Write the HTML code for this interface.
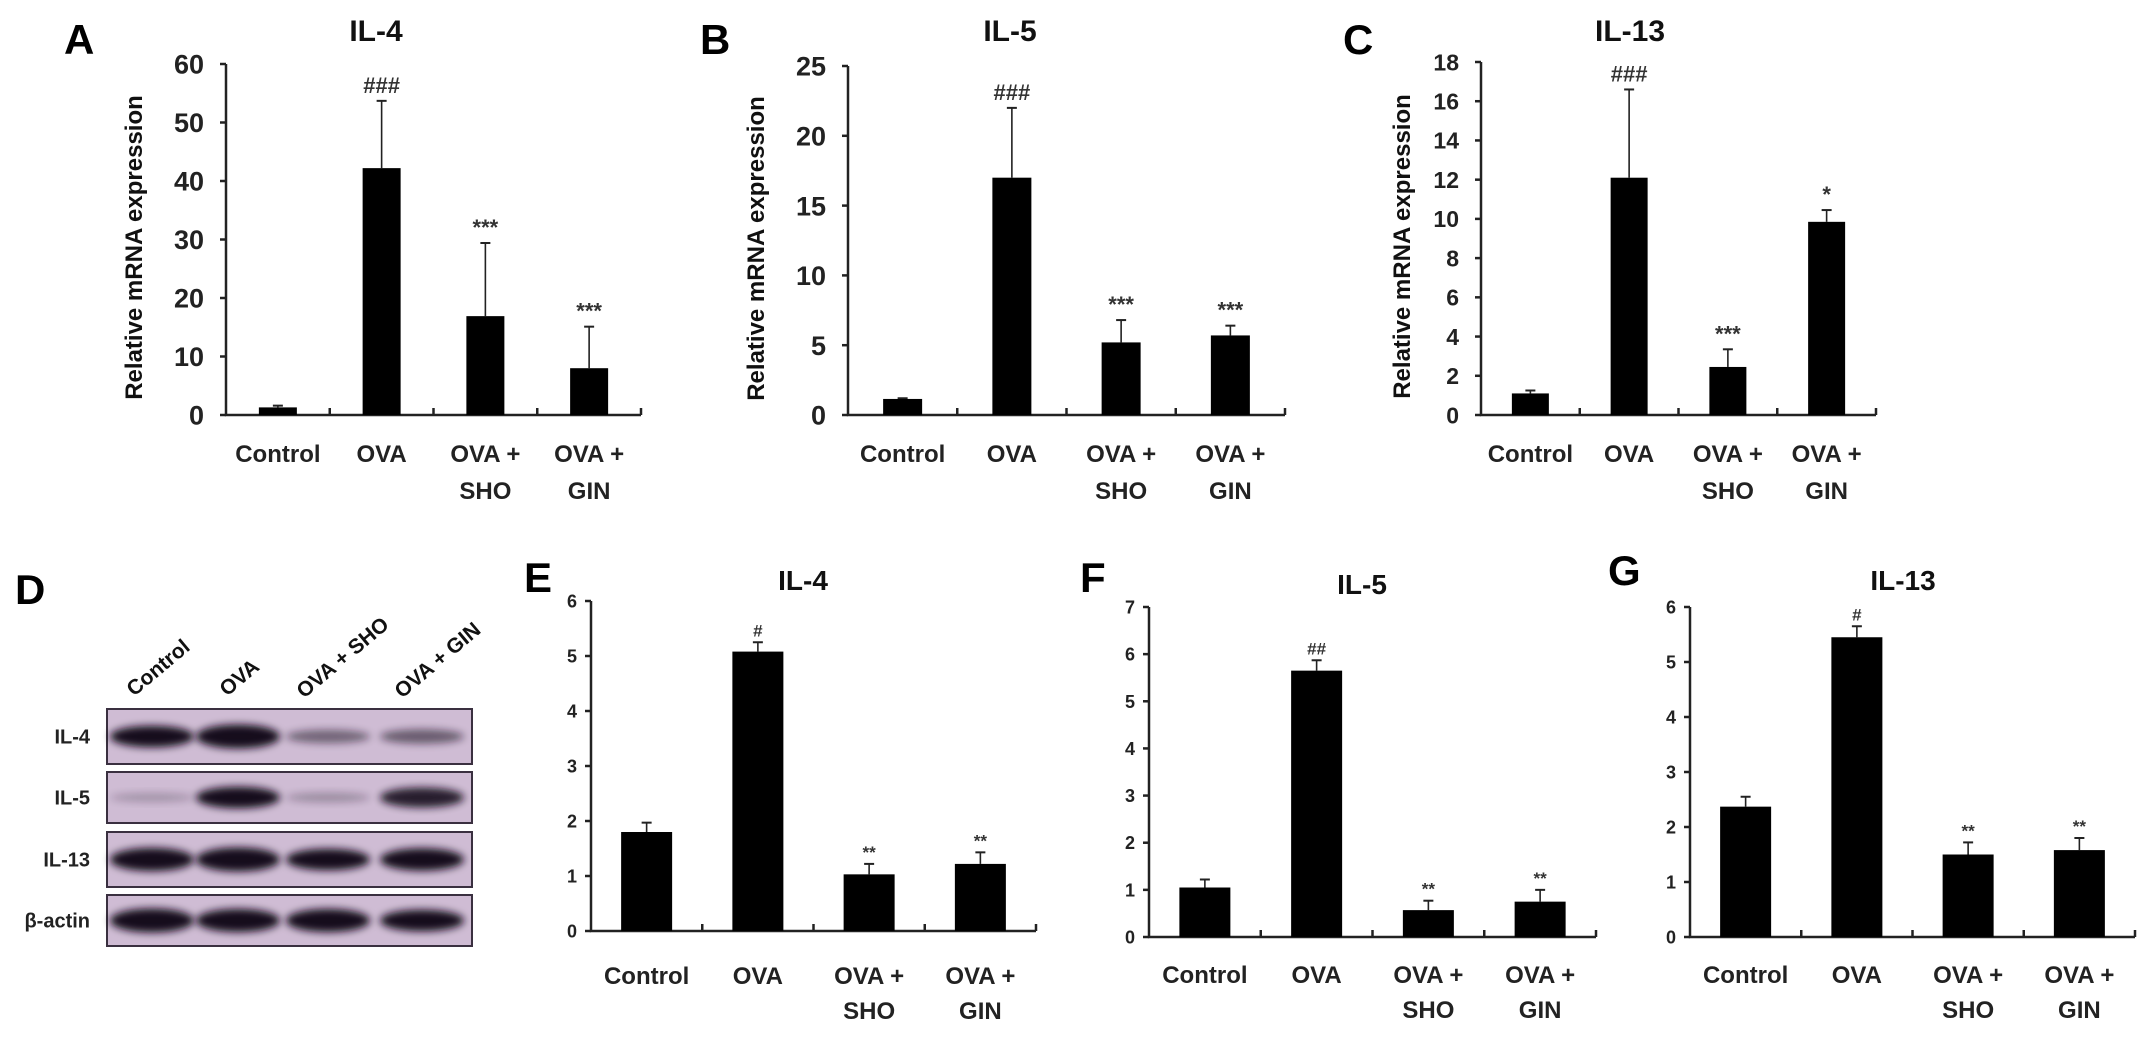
<!DOCTYPE html>
<html><head><meta charset="utf-8">
<style>
html,body{margin:0;padding:0;background:#fff;}
svg{display:block;font-family:"Liberation Sans",sans-serif;}
</style></head>
<body>
<svg id="fig" width="2150" height="1049" viewBox="0 0 2150 1049" xmlns="http://www.w3.org/2000/svg">
<defs>
<filter id="blur" x="-20%" y="-60%" width="140%" height="220%"><feGaussianBlur stdDeviation="4"/></filter>
</defs>
<g id="blot">
<text x="15" y="604" font-size="42" font-weight="bold">D</text>
<text transform="translate(134,697) rotate(-40)" font-size="21" font-weight="bold" fill="#111">Control</text>
<text transform="translate(227,697) rotate(-40)" font-size="21" font-weight="bold" fill="#111">OVA</text>
<text transform="translate(304,699) rotate(-40)" font-size="21" font-weight="bold" fill="#111">OVA + SHO</text>
<text transform="translate(402,699) rotate(-40)" font-size="21" font-weight="bold" fill="#111">OVA + GIN</text>
</g>
<g id="charts"></g>
</svg>
<script>
// ---- data ----
const categories = ["Control", "OVA", "OVA +|SHO", "OVA +|GIN"];
const ticksA = [0, 10, 20, 30, 40, 50, 60];
const valuesA = [1.3, 42.2, 16.9, 8.0];
const errorsA = [1.6, 53.7, 29.4, 15.1];
const marksA = ["", "###", "***", "***"];
const ticksB = [0, 5, 10, 15, 20, 25];
const valuesB = [1.15, 17.0, 5.2, 5.7];
const errorsB = [1.2, 22.0, 6.8, 6.4];
const marksB = ["", "###", "***", "***"];
const ticksC = [0, 2, 4, 6, 8, 10, 12, 14, 16, 18];
const valuesC = [1.1, 12.1, 2.45, 9.85];
const errorsC = [1.25, 16.6, 3.35, 10.45];
const marksC = ["", "###", "***", "*"];
const ticksE = [0, 1, 2, 3, 4, 5, 6];
const valuesE = [1.8, 5.08, 1.03, 1.22];
const errorsE = [1.97, 5.25, 1.22, 1.43];
const marksE = ["", "#", "**", "**"];
const ticksF = [0, 1, 2, 3, 4, 5, 6, 7];
const valuesF = [1.05, 5.65, 0.57, 0.75];
const errorsF = [1.22, 5.87, 0.77, 1.0];
const marksF = ["", "##", "**", "**"];
const ticksG = [0, 1, 2, 3, 4, 5, 6];
const valuesG = [2.37, 5.45, 1.5, 1.58];
const errorsG = [2.55, 5.65, 1.72, 1.8];
const marksG = ["", "#", "**", "**"];
// blot band intensities (0..1) per lane
const blotRows = ["IL-4", "IL-5", "IL-13", "β-actin"];
const bandIL4 = [0.85, 1.0, 0.35, 0.4];
const bandIL5 = [0.08, 0.85, 0.12, 0.75];
const bandIL13 = [0.95, 1.0, 0.85, 0.9];
const bandActin = [1.0, 0.95, 0.95, 0.85];

const NS = "http://www.w3.org/2000/svg";
const root = document.getElementById("charts");
function mk(tag, attrs, parent) {
  const e = document.createElementNS(NS, tag);
  for (const k in attrs) e.setAttribute(k, attrs[k]);
  (parent || root).appendChild(e);
  return e;
}

function drawChart(cfg, ticks, values, errors, marks) {
  const g = mk("g", {});
  
  
  const max = ticks[ticks.length - 1];
  const y = v => cfg.y0 - v / max * (cfg.y0 - cfg.yTop);
  const group = (cfg.x1 - cfg.x0) / categories.length;
  const xc = i => cfg.x0 + (i + 0.5) * group;
  const L = mk("text", {x: cfg.letterX, y: cfg.letterY, "font-size": 42, "font-weight": "bold"}, g);
  L.textContent = cfg.letter;
  
  
  const T = mk("text", {x: cfg.titleX, y: cfg.titleY, "font-size": cfg.titleSize, "font-weight": "bold", "text-anchor": "middle", fill: "#111"}, g);
  T.textContent = cfg.title;
  
  
  if (cfg.ylabelX) {
    const yl = mk("text", {transform: `translate(${cfg.ylabelX},${(cfg.y0 + cfg.yTop) / 2 + 8}) rotate(-90)`, "font-size": 24, "font-weight": "bold", "text-anchor": "middle", fill: "#111"}, g);
    yl.textContent = "Relative mRNA expression";
    
    
  }
  const ax = mk("path", {d: `M${cfg.x0},${cfg.yTop} V${cfg.y0} H${cfg.x1}`, stroke: "#222", "stroke-width": 2.5, fill: "none"}, g);
  
  
  ticks.forEach(t => {
    const ty = y(t);
    const tl = mk("line", {x1: cfg.x0 - 6, x2: cfg.x0, y1: ty, y2: ty, stroke: "#222", "stroke-width": 2.5}, g);
    
    
    const lab = mk("text", {x: cfg.x0 - cfg.tickGap, y: ty + cfg.tickSize * 0.36, "font-size": cfg.tickSize, "font-weight": "bold", "text-anchor": "end", fill: "#222"}, g);
    lab.textContent = t;
    
    
  });
  for (let i = 1; i <= categories.length; i++) {
    const tx = cfg.x0 + i * group;
    const xt = mk("line", {x1: tx, x2: tx, y1: cfg.y0, y2: cfg.y0 - 7, stroke: "#222", "stroke-width": 2.5}, g);
    
    
  }
  categories.forEach((c, i) => {
    const parts = c.split("|");
    parts.forEach((p, j) => {
      const t = mk("text", {x: xc(i), y: cfg.catY + j * cfg.catGap, "font-size": 24, "font-weight": "bold", "text-anchor": "middle", fill: "#222"}, g);
      t.textContent = p;
      
      
    });
    const bw = cfg.barW;
    const top = y(values[i]);
    const et = y(errors[i]);
    const eb = mk("line", {x1: xc(i), x2: xc(i), y1: top, y2: et, stroke: "#222", "stroke-width": 1.6}, g);
    
    
    const cap = mk("line", {x1: xc(i) - 5, x2: xc(i) + 5, y1: et, y2: et, stroke: "#222", "stroke-width": 2}, g);
    
    
    const r = mk("rect", {x: xc(i) - bw / 2, y: top, width: bw, height: cfg.y0 - top, fill: "#000"}, g);
    
    
    if (marks[i]) {
      const m = mk("text", {x: xc(i), y: et - cfg.markGap, "font-size": cfg.markSize, "font-weight": "bold", "text-anchor": "middle", fill: "#333"}, g);
      m.textContent = marks[i];
      
      
    }
  });
}

const topCommon = {y0: 415, tickSize: 27, tickGap: 22, titleSize: 30, titleY: 41, letterY: 54, catY: 462, catGap: 37, markSize: 22, markGap: 8};
drawChart(Object.assign({}, topCommon, {id: "chart-a-il4", x0: 226, x1: 641, yTop: 64, barW: 38, title: "IL-4", titleX: 376, letter: "A", letterX: 64, ylabelX: 142}), ticksA, valuesA, errorsA, marksA);
drawChart(Object.assign({}, topCommon, {id: "chart-b-il5", x0: 848, x1: 1285, yTop: 66, barW: 39, title: "IL-5", titleX: 1010, letter: "B", letterX: 700, ylabelX: 764}), ticksB, valuesB, errorsB, marksB);
drawChart(Object.assign({}, topCommon, {id: "chart-c-il13", x0: 1481, x1: 1876, yTop: 62, barW: 37, tickSize: 23, title: "IL-13", titleX: 1630, letter: "C", letterX: 1343, ylabelX: 1410}), ticksC, valuesC, errorsC, marksC);

const botCommon = {y0: 931, tickSize: 18, tickGap: 14, titleSize: 28, titleY: 590, letterY: 592, catY: 984, catGap: 35, markSize: 17, markGap: 6, barW: 51};
drawChart(Object.assign({}, botCommon, {id: "chart-e-il4", x0: 591, x1: 1036, yTop: 601, title: "IL-4", titleX: 803, letter: "E", letterX: 524}), ticksE, valuesE, errorsE, marksE);
drawChart(Object.assign({}, botCommon, {id: "chart-f-il5", x0: 1149, x1: 1596, y0: 937, yTop: 607, titleY: 594, catY: 983, title: "IL-5", titleX: 1362, letter: "F", letterX: 1080, letterY: 592}), ticksF, valuesF, errorsF, marksF);
drawChart(Object.assign({}, botCommon, {id: "chart-g-il13", x0: 1690, x1: 2135, y0: 937, yTop: 607, catY: 983, title: "IL-13", titleX: 1903, letter: "G", letterX: 1608, letterY: 585}), ticksG, valuesG, errorsG, marksG);

// ---- western blot ----
const blot = document.getElementById("blot");
const rowsY = [[709, 764], [772, 823], [832, 887], [895, 946]];
const rowBands = [bandIL4, bandIL5, bandIL13, bandActin];
const laneX = [152, 238, 328, 422];
rowsY.forEach((ry, r) => {
  const box = mk("rect", {x: 107, y: ry[0], width: 365, height: ry[1] - ry[0], fill: "#cfbcd4", stroke: "#3a3040", "stroke-width": 2}, blot);
  
  
  const cy = (ry[0] + ry[1]) / 2;
  rowBands[r].forEach((b, i) => {
    const e = mk("ellipse", {cx: laneX[i], cy: cy, rx: 42, ry: 4 + 8 * b, fill: "#120a1a", opacity: Math.min(1, 0.15 + b), filter: "url(#blur)"}, blot);
    
    
  });
  const lab = mk("text", {x: 90, y: cy + 7, "font-size": 20, "font-weight": "bold", "text-anchor": "end", fill: "#222"}, blot);
  lab.textContent = blotRows[r];
  
  
});
</script>
</body></html>
